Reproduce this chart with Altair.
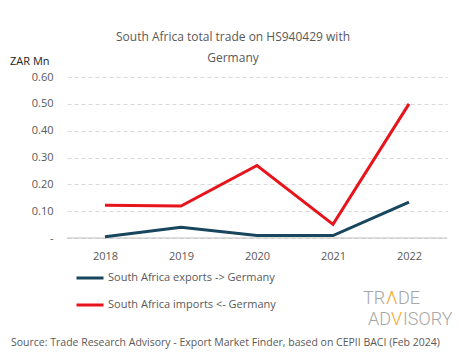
import altair as alt
import pandas as pd

years = ["2018", "2019", "2020", "2021", "2022"]
exports = [0.005, 0.040, 0.009, 0.009, 0.134]
imports = [0.122, 0.119, 0.270, 0.051, 0.500]
series_names = ["South Africa exports -> Germany", "South Africa imports <- Germany"]
series_colors = ["#17465e", "#e8141c"]
y_ticks = [0, 0.1, 0.2, 0.3, 0.4, 0.5, 0.6]

rows = []
for i, y in enumerate(years):
    rows.append({"year": y, "series": series_names[0], "value": exports[i]})
    rows.append({"year": y, "series": series_names[1], "value": imports[i]})
df = pd.DataFrame(rows)

FONT = "Open Sans"
GRAY = "#595959"

y_axis = alt.Axis(title=None, values=y_ticks, ticks=False, domain=False,
                  labelOverlap=False,
                  labelExpr="datum.value == 0 ? '-' : format(datum.value, '.2f')",
                  labelFont=FONT, labelFontSize=11, labelColor=GRAY, labelPadding=14,
                  gridColor="#d9d9d9", gridDash=[4, 3], gridWidth=1)
y_scale = alt.Scale(domain=[0, 0.6], nice=False)

lines = alt.Chart(df).mark_line(strokeWidth=3).encode(
    x=alt.X("year:N", sort=years, scale=alt.Scale(type="point", padding=0.5),
            axis=alt.Axis(title=None, labelAngle=0, ticks=False, domain=False, grid=False,
                          labelFont=FONT, labelFontSize=11, labelColor=GRAY, labelPadding=12)),
    y=alt.Y("value:Q", scale=y_scale, axis=y_axis),
    color=alt.Color("series:N", sort=series_names,
                    scale=alt.Scale(domain=series_names, range=series_colors),
                    legend=alt.Legend(title=None, orient="none", legendX=8, legendY=186,
                                      direction="vertical", symbolType="stroke",
                                      symbolSize=729, symbolStrokeWidth=3, rowPadding=6,
                                      labelFont=FONT, labelFontSize=11, labelColor=GRAY,
                                      labelOffset=3, labelLimit=400)),
)

zero_rule = alt.Chart(pd.DataFrame({"v": [0]})).mark_rule(color="#bfbfbf", strokeWidth=1).encode(
    y=alt.Y("v:Q", scale=y_scale, axis=y_axis)
)

def txt(s, x, y, size=11, color=GRAY, align="left", font=FONT, weight="normal"):
    return alt.Chart(pd.DataFrame({"t": [s]})).mark_text(
        align=align, baseline="middle", fontSize=size, color=color, font=font, fontWeight=weight
    ).encode(x=alt.value(x), y=alt.value(y), text="t:N")

title1 = txt("South Africa total trade on HS940429 with", 166, -40, size=12, align="center")
title2 = txt("Germany", 166, -19, size=12, align="center")
ylab = txt("ZAR Mn", -57, -15, size=11, color="#222222")
source = txt("Source: Trade Research Advisory - Export Market Finder, based on CEPII BACI (Feb 2024)",
             -56, 266, size=10.5)

LOGO = "#a6a6a6"
ORANGE = "#f5a623"
logo_font = "Roboto"
logo = [
    txt("TR", 296, 222, size=18, color=LOGO, font=logo_font, weight=300),
    txt("Λ", 319, 222, size=18, color=ORANGE, font=logo_font, weight=300),
    txt("DE", 331, 222, size=18, color=LOGO, font=logo_font, weight=300),
    txt("AD", 301, 243, size=18, color=LOGO, font=logo_font, weight=300),
    txt("V", 324, 243, size=18, color=ORANGE, font=logo_font, weight=300),
    txt("ISORY", 336, 243, size=18, color=LOGO, font=logo_font, weight=300),
]

chart = alt.layer(zero_rule, lines, title1, title2, ylab, source, *logo).properties(
    width=380, height=161,
    autosize=alt.AutoSizeParams(type="none"),
    padding={"left": 59, "top": 69, "right": 10, "bottom": 113},
).configure_view(stroke=None)

chart.save("out.html", embed_options={"renderer": "svg", "actions": False})
